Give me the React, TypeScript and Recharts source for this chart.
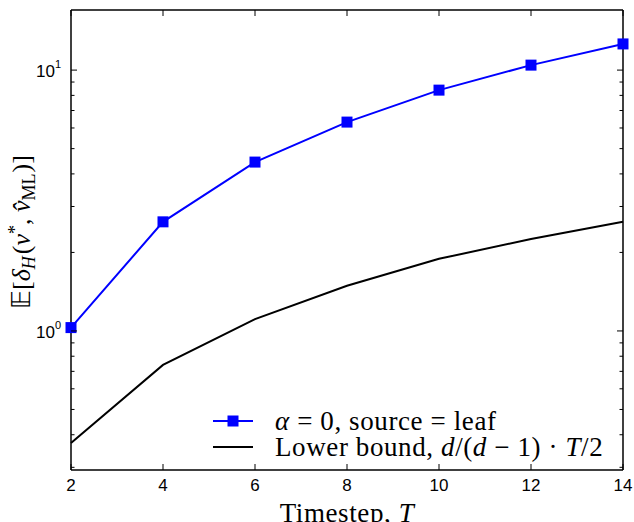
import React from "react";
import { LineChart, Line, XAxis, YAxis, Legend, Label } from "recharts";

const timesteps = [2, 4, 6, 8, 10, 12, 14];
const sourceLeaf = [1.03, 2.62, 4.44, 6.32, 8.38, 10.45, 12.6];
const lowerBound = [0.372, 0.741, 1.11, 1.49, 1.89, 2.25, 2.62];
const xTicks = [2, 4, 6, 8, 10, 12, 14];
const yMajor = [1, 10];
const yTicks = [0.3, 0.4, 0.5, 0.6, 0.7, 0.8, 0.9, 1, 2, 3, 4, 5, 6, 7, 8, 9, 10];
const xDomain = [2, 14];
const yDomain = [0.293, 17];

const data = timesteps.map((t, i) => ({ t, leaf: sourceLeaf[i], lb: lowerBound[i] }));

const W = 634;
const H = 522;
const MT = 10;
const MR = 11;
const XH = 52;
const YW = 71;
const PLOT_TOP = MT;
const PLOT_RIGHT = W - MR;
const PLOT_BOTTOM = H - XH;

const M = 8;
const SANS = "'Liberation Sans', Arial, sans-serif";
const SERIF = "'Liberation Serif', 'Times New Roman', serif";

const LeftTick = (p: any) => {
  const edge = p.x + M;
  const v = p.payload.value;
  const major = yMajor.includes(v);
  const len = major ? 6 : 3.5;
  return (
    <g>
      <line x1={edge} x2={edge + len} y1={p.y} y2={p.y} stroke="#000" strokeWidth={1} />
      <line x1={PLOT_RIGHT} x2={PLOT_RIGHT - len} y1={p.y} y2={p.y} stroke="#000" strokeWidth={1} />
      {major && (
        <text x={edge - 10} y={p.y + 7} textAnchor="end" fontFamily={SANS} fontSize={17} fill="#000">
          10<tspan dy={-9} fontSize={11}>{v === 1 ? "0" : "1"}</tspan>
        </text>
      )}
    </g>
  );
};

const BottomTick = (p: any) => {
  const edge = p.y - M;
  return (
    <g>
      <line x1={p.x} x2={p.x} y1={edge} y2={edge - 6} stroke="#000" strokeWidth={1} />
      <line x1={p.x} x2={p.x} y1={PLOT_TOP} y2={PLOT_TOP + 6} stroke="#000" strokeWidth={1} />
      <text x={p.x} y={edge + 21} textAnchor="middle" fontFamily={SANS} fontSize={17} fill="#000">
        {p.payload.value}
      </text>
    </g>
  );
};

const YLabel = (props: any) => {
  const vb = props.viewBox || { x: 0, y: PLOT_TOP, width: YW, height: PLOT_BOTTOM - PLOT_TOP };
  const cx = vb.x + 30;
  const cy = vb.y + vb.height / 2 - 8;
  return (
    <text
      transform={`translate(${cx},${cy}) rotate(-90)`}
      textAnchor="middle"
      fontFamily={SERIF}
      fontSize={26}
      fill="#000"
    >
      <tspan>𝔼[</tspan>
      <tspan fontStyle="italic">δ</tspan>
      <tspan fontStyle="italic" fontSize={18} dy={5}>H</tspan>
      <tspan dy={-5} dx={2}>(</tspan>
      <tspan fontStyle="italic">v</tspan>
      <tspan fontSize={18} dy={-9}>*</tspan>
      <tspan dy={9}>, </tspan>
      <tspan fontStyle="italic">v̂</tspan>
      <tspan fontSize={18} dy={5}>ML</tspan>
      <tspan dy={-5} dx={1}>)]</tspan>
    </text>
  );
};

const XLabel = (props: any) => {
  const vb = props.viewBox || { x: YW, y: PLOT_BOTTOM, width: PLOT_RIGHT - YW, height: XH };
  const left = vb.x;
  const right = vb.x + vb.width;
  return (
    <g>
      {/* top and right edges of the plot frame */}
      <line x1={left} x2={right} y1={PLOT_TOP} y2={PLOT_TOP} stroke="#000" strokeWidth={1.5} />
      <line x1={right} x2={right} y1={PLOT_TOP} y2={vb.y} stroke="#000" strokeWidth={1.5} />
      <text
        x={vb.x + vb.width / 2}
        y={vb.y + 52}
        textAnchor="middle"
        fontFamily={SERIF}
        fontSize={27}
        letterSpacing={0.6}
        fill="#000"
      >
        Timestep, <tspan fontStyle="italic">T</tspan>
      </text>
    </g>
  );
};

const LegendContent = () => (
  <div style={{ fontFamily: SERIF, fontSize: 27, color: "#000", lineHeight: "26px", whiteSpace: "pre", letterSpacing: 0.6 }}>
    <div style={{ display: "flex", alignItems: "center", height: 26 }}>
      <svg width={62} height={26} style={{ flex: "none" }}>
        <line x1={0} x2={40} y1={13} y2={13} stroke="#0000ff" strokeWidth={2} />
        <rect x={14.5} y={7.5} width={11} height={11} fill="#0000ff" />
      </svg>
      <span>
        <i>α</i>{" = 0, source = leaf"}
      </span>
    </div>
    <div style={{ display: "flex", alignItems: "center", height: 26 }}>
      <svg width={62} height={26} style={{ flex: "none" }}>
        <line x1={0} x2={40} y1={13} y2={13} stroke="#000" strokeWidth={2} />
      </svg>
      <span>
        {"Lower bound, "}<i>d</i>{"/("}<i>d</i>{" − 1) · "}<i>T</i>{"/2"}
      </span>
    </div>
  </div>
);

const Square = (p: any) => {
  if (p.cx == null || p.cy == null) return <g />;
  return <rect x={p.cx - 5.5} y={p.cy - 5.5} width={11} height={11} fill="#0000ff" />;
};

export default function App() {
  return (
    <div style={{ position: "absolute", left: 0, top: 0, width: W, height: H, background: "#fff" }}>
      <LineChart width={W} height={H} data={data} margin={{ top: MT, right: MR, left: 0, bottom: 0 }}>
        <XAxis
          dataKey="t"
          type="number"
          domain={xDomain}
          ticks={xTicks}
          orientation="bottom"
          height={XH}
          tickSize={0}
          tickMargin={M}
          tickLine={false}
          tick={BottomTick}
          axisLine={{ stroke: "#000", strokeWidth: 1.5 }}
        >
          <Label content={XLabel} />
        </XAxis>
        <YAxis
          scale="log"
          type="number"
          domain={yDomain}
          ticks={yTicks}
          orientation="left"
          width={YW}
          tickSize={0}
          tickMargin={M}
          tickLine={false}
          tick={LeftTick}
          interval={0}
          axisLine={{ stroke: "#000", strokeWidth: 1.5 }}
        >
          <Label content={YLabel} />
        </YAxis>
        <Line
          dataKey="lb"
          stroke="#000"
          strokeWidth={2}
          dot={false}
          isAnimationActive={false}
          name="Lower bound"
        />
        <Line
          dataKey="leaf"
          stroke="#0000ff"
          strokeWidth={2}
          dot={Square}
          isAnimationActive={false}
          name="alpha = 0"
        />
        <Legend
          layout="vertical"
          align="center"
          verticalAlign="middle"
          content={LegendContent}
          wrapperStyle={{ position: "absolute", left: 213, top: 408, width: 420 }}
        />
      </LineChart>
    </div>
  );
}
